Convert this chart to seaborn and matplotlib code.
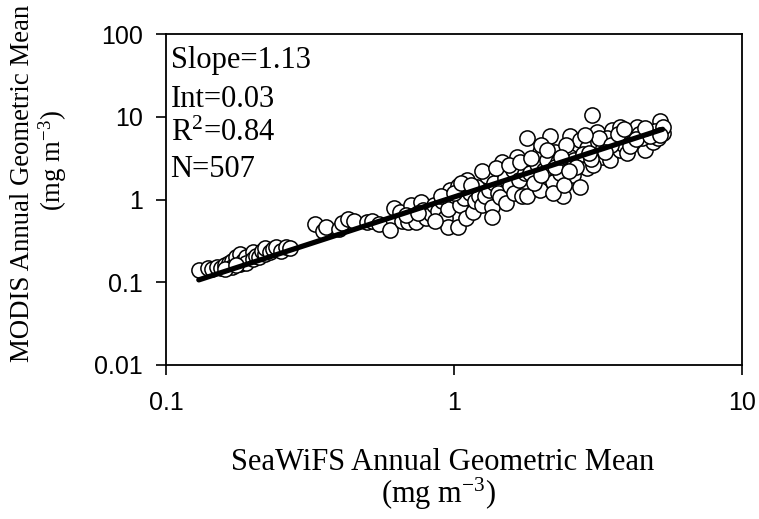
import numpy as np
import pandas as pd
import matplotlib
matplotlib.use("Agg")
import matplotlib.pyplot as plt
import seaborn as sns

# ---------------- data ----------------
seawifs = [
    # low cluster
    0.13, 0.14, 0.145, 0.15, 0.155, 0.16, 0.165, 0.17, 0.17, 0.175, 0.18, 0.18,
    0.185, 0.19, 0.19, 0.2, 0.2, 0.205, 0.21, 0.215, 0.22, 0.22, 0.23, 0.235,
    0.24, 0.25, 0.26, 0.27, 0.16, 0.175,
    # 0.33 - 0.55
    0.33, 0.35, 0.36, 0.40, 0.41, 0.43, 0.45, 0.50, 0.52, 0.55,
    # 0.58 - 0.97
    0.60, 0.62, 0.65, 0.66, 0.69, 0.71, 0.73, 0.74, 0.77, 0.78, 0.80, 0.83,
    0.85, 0.88, 0.91, 0.93, 0.95, 0.95, 0.97, 0.90, 0.68, 0.75, 0.86,
    # 1.0 - 1.8
    1.03, 1.03, 1.05, 1.08, 1.10, 1.11, 1.14, 1.16, 1.18, 1.20, 1.22, 1.25,
    1.28, 1.30, 1.32, 1.35, 1.35, 1.38, 1.42, 1.44, 1.47, 1.50, 1.52, 1.56,
    1.60, 1.62, 1.65, 1.68, 1.72, 1.76, 1.79, 1.79, 1.00, 1.06, 1.15, 1.25,
    1.40, 1.55, 1.70,
    # 1.8 - 3.0
    1.84, 1.94, 1.99, 1.99, 2.15, 2.20, 2.24, 2.34, 2.39, 2.53, 2.53, 2.59,
    2.74, 2.74, 2.90, 2.90, 1.90, 2.05, 2.10, 2.30, 2.45, 2.60, 2.80, 2.00,
    2.20, 2.65, 2.40, 1.85, 2.00, 2.10, 2.25, 2.50, 2.35,
    # 3.0 - 5.5
    3.02, 3.14, 3.16, 3.26, 3.48, 3.54, 3.77, 3.77, 4.08, 4.32, 4.60, 4.90,
    5.20, 5.30, 3.30, 3.60, 3.90, 4.20, 4.40, 4.70, 5.00, 5.30, 3.05, 3.40,
    4.00, 4.50, 3.00, 5.10, 3.20, 3.50, 3.70, 4.10, 4.30, 4.80, 5.20, 3.90,
    4.60, 2.85, 3.35, 2.95,
]
modis = [
    0.14, 0.15, 0.145, 0.155, 0.15, 0.16, 0.17, 0.18, 0.155, 0.20, 0.165, 0.22,
    0.18, 0.20, 0.17, 0.23, 0.19, 0.21, 0.20, 0.24, 0.22, 0.26, 0.23, 0.25,
    0.27, 0.24, 0.27, 0.26, 0.145, 0.16,
    0.50, 0.42, 0.47, 0.44, 0.52, 0.58, 0.55, 0.53, 0.55, 0.50,
    0.43, 0.80, 0.70, 0.55, 0.53, 0.87, 0.62, 0.54, 0.92, 0.75, 0.60, 0.66,
    0.85, 0.72, 0.95, 0.60, 0.76, 0.47, 1.32, 1.10, 0.65, 0.68, 0.55,
    1.44, 0.47, 0.87, 1.05, 0.60, 1.74, 1.21, 0.70, 0.95, 1.40, 1.10, 0.85,
    1.09, 1.90, 1.30, 0.82, 0.62, 1.60, 1.20, 1.06, 2.80, 1.80, 0.90, 1.44,
    2.30, 1.20, 3.30, 1.70, 1.09, 2.10, 5.60, 1.09, 1.20, 1.60, 1.50, 2.20,
    2.40, 2.60, 2.80,
    2.10, 2.65, 3.70, 1.32, 5.80, 1.65, 3.70, 2.10, 1.09, 3.30, 5.80, 2.00,
    1.40, 5.30, 4.25, 2.40, 1.60, 2.30, 3.00, 2.80, 4.50, 3.00, 3.50, 4.50,
    1.20, 2.50, 1.50, 3.20, 2.00, 4.00, 2.50, 2.20, 3.30,
    10.6, 6.60, 4.90, 3.30, 3.00, 7.00, 7.60, 4.00, 5.80, 7.60, 4.00, 5.00,
    8.80, 6.40, 4.20, 5.00, 4.60, 5.00, 6.20, 6.50, 6.80, 7.50, 2.60, 5.60,
    3.60, 5.50, 3.10, 5.50, 5.50, 4.50, 6.20, 4.40, 5.40, 5.80, 6.00, 7.20,
    7.30, 6.00, 3.80, 3.60,
]

# regression statistics (log10 space) as printed on the chart
slope = 1.13
intercept = 0.03
stat_labels = ["Slope=1.13", "Int=0.03", "R$^{2}$=0.84", "N=507"]

x_ticks = [0.1, 1, 10]
x_tick_labels = ["0.1", "1", "10"]
y_ticks = [0.01, 0.1, 1, 10, 100]
y_tick_labels = ["0.01", "0.1", "1", "10", "100"]

xlabel_lines = ["SeaWiFS Annual Geometric Mean", "(mg m$^{-3}$)"]
ylabel_lines = ["MODIS Annual Geometric Mean", "(mg m$^{-3}$)"]

# ---------------- styling ----------------
sns.set_theme(style="white")
plt.rcParams["font.family"] = ["Liberation Serif", "DejaVu Serif"]
plt.rcParams["mathtext.fontset"] = "custom"
plt.rcParams["mathtext.rm"] = "Liberation Serif"
plt.rcParams["mathtext.it"] = "Liberation Serif:italic"
plt.rcParams["mathtext.bf"] = "Liberation Serif:bold"

W, H = 759, 519
fig = plt.figure(figsize=(W / 100, H / 100), dpi=100)
fig.patch.set_facecolor("white")

# axes box in pixels: left 166, right 742, top 34, bottom 365
ax = fig.add_axes([166 / W, 1 - 365 / H, (742 - 166) / W, (365 - 34) / H])
ax.set_facecolor("white")

df = pd.DataFrame({"SeaWiFS": seawifs, "MODIS": modis})

sns.scatterplot(data=df, x="SeaWiFS", y="MODIS", ax=ax, s=120,
                facecolor="white", edgecolor="black", linewidth=1.1,
                zorder=2, legend=False)

xs = np.array([df["SeaWiFS"].min(), df["SeaWiFS"].max()])
ys = 10 ** (intercept + slope * np.log10(xs))
sns.lineplot(x=xs, y=ys, ax=ax, color="black", linewidth=3.8, zorder=3,
             legend=False)

ax.set_xscale("log")
ax.set_yscale("log")
ax.set_xlim(0.1, 10)
ax.set_ylim(0.01, 100)
ax.set_xticks(x_ticks)
ax.set_xticklabels(x_tick_labels)
ax.set_yticks(y_ticks)
ax.set_yticklabels(y_tick_labels)
ax.minorticks_off()
ax.set_xlabel("")
ax.set_ylabel("")

for side in ["left", "right", "top", "bottom"]:
    ax.spines[side].set_visible(True)
    ax.spines[side].set_color("black")
    ax.spines[side].set_linewidth(1.3)

ax.tick_params(axis="both", which="major", direction="out", length=7.5,
               width=1.2, color="black", left=True, bottom=True,
               top=False, right=False)
ax.tick_params(axis="y", pad=9)
ax.tick_params(axis="x", pad=11)
for lab in ax.get_xticklabels() + ax.get_yticklabels():
    lab.set_fontfamily(["Liberation Sans", "DejaVu Sans"])
    lab.set_fontsize(18)
    lab.set_color("black")

# statistics text (baselines in pixels)
stat_baselines = [68, 107, 141, 177]
for txt, b in zip(stat_labels, stat_baselines):
    ax.text(0.008, (365 - b) / (365 - 34), txt, transform=ax.transAxes,
            fontsize=22, va="baseline", ha="left", color="black")

# axis labels
fig.text(443 / W, 1 - 470 / H, xlabel_lines[0], fontsize=22,
         ha="center", va="baseline", color="black")
fig.text(438 / W, 1 - 503 / H, xlabel_lines[1], fontsize=22,
         ha="center", va="baseline", color="black")
fig.text(29 / W, 1 - 183 / H, ylabel_lines[0], fontsize=19.3, rotation=90,
         rotation_mode="anchor", ha="center", va="baseline", color="black")
fig.text(61 / W, 1 - 160 / H, ylabel_lines[1], fontsize=19.3, rotation=90,
         rotation_mode="anchor", ha="center", va="baseline", color="black")

fig.savefig("out.png", dpi=100, facecolor="white")
